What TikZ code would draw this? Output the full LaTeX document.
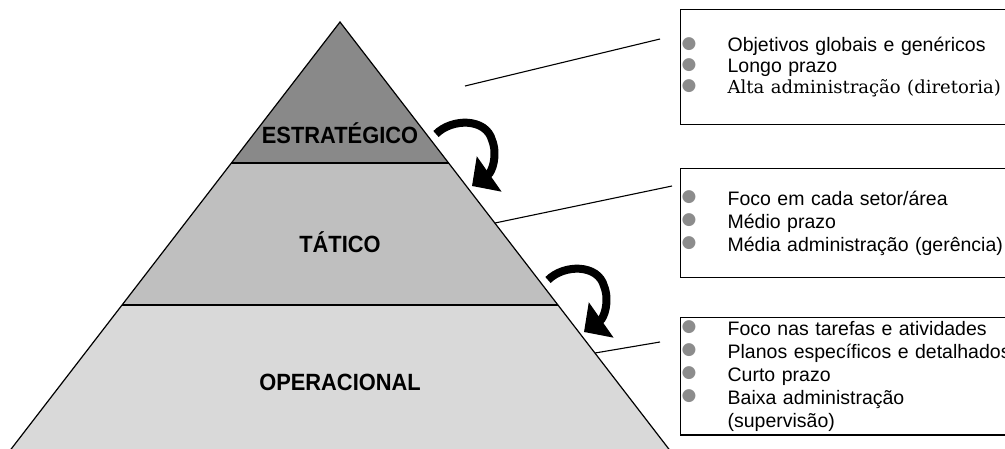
\documentclass[tikz,border=0pt]{standalone}
\usepackage{fontspec}
\setmainfont{Liberation Sans}
\newfontfamily\slabfont{DejaVu Serif}
\newfontfamily\dotfont{DejaVu Sans}
\newfontfamily\levelfont[FakeStretch=0.93]{Liberation Sans}
\usetikzlibrary{arrows.meta}
\definecolor{topgray}{HTML}{898989}
\definecolor{midgray}{HTML}{BFBFBF}
\definecolor{lowgray}{HTML}{D9D9D9}
\definecolor{bulgray}{HTML}{8C8C8C}
\newcommand{\bul}{\makebox[43pt][l]{\hspace*{-3pt}\raisebox{3.6pt}{\textcolor{bulgray}{\dotfont\fontsize{17}{17}\selectfont ●}}}}
\newcommand{\nobul}{\makebox[43pt][l]{}}
\begin{document}
\begin{tikzpicture}[x=1pt,y=-1pt,
	level/.style={font=\levelfont\fontsize{23.5}{25}\selectfont\bfseries,anchor=base},
	infobox/.style={draw,line width=1.3pt,anchor=north west,text width=330pt,align=left,inner xsep=4pt,font=\fontsize{19.5}{23}\selectfont},
	callout/.style={line width=1.1pt},
	turn/.style={line width=8pt,-{Triangle[width=42pt,length=21pt]}}]
		\useasboundingbox (0,0) rectangle (1005,448);
		\clip (0,0) rectangle (1005,448);
		% pyramid
		\coordinate (apex) at (340,22);
		\coordinate (s1l) at (231.4,163); \coordinate (s1r) at (448.6,163);
		\coordinate (s2l) at (122.1,305); \coordinate (s2r) at (557.9,305);
		\coordinate (s3l) at (2.7,460); \coordinate (s3r) at (677.3,460);
		\fill[topgray] (apex)--(s1r)--(s1l)--cycle;
		\fill[midgray] (s1l)--(s1r)--(s2r)--(s2l)--cycle;
		\fill[lowgray] (s2l)--(s2r)--(s3r)--(s3l)--cycle;
		\draw[line width=1.2pt] (s3l)--(apex)--(s3r);
		\draw[line width=1.8pt] (s1l)--(s1r) (s2l)--(s2r);
		\node[level] (lstrat) at (340,143) {ESTRATÉGICO};
		\node[level] (ltat) at (340,252) {TÁTICO};
		\node[level] (loper) at (340,390) {OPERACIONAL};
		% boxes
		\node[infobox,minimum height=115pt,font=\fontsize{19.5}{21}\selectfont] (bstrat) at (680,9)
			{\bul Objetivos globais e genéricos\\ \bul Longo prazo\\ \bul {\slabfont\fontsize{18}{21}\selectfont Alta administração (diretoria)}};
		\node[infobox,minimum height=109pt] (btat) at (680,168)
			{\bul Foco em cada setor/área\\ \bul Médio prazo\\ \bul Média administração (gerência)};
		\node[infobox,minimum height=115pt] (boper) at (680,317)
			{\bul Foco nas tarefas e atividades\\ \bul Planos específicos e detalhados\\ \bul Curto prazo\\ \bul Baixa administração\\ \nobul (supervisão)};
		% callouts
		\coordinate (c1a) at (465,86); \coordinate (c1b) at (660,39);
		\coordinate (c2a) at (495,223); \coordinate (c2b) at (672,186);
		\coordinate (c3a) at (595,353); \coordinate (c3b) at (660,342);
		\draw[callout] (c1a)--(c1b);
		\draw[callout] (c2a)--(c2b);
		\draw[callout] (c3a)--(c3b);
		% turning arrows
		\foreach \dx/\dy in {0/0,112/146}
		\draw[turn,shift={(\dx,\dy)}] (436,134) .. controls (452,118) and (486,118) .. (492,140) .. controls (498,155) and (492,172) .. (472,186);
\end{tikzpicture}
\end{document}
